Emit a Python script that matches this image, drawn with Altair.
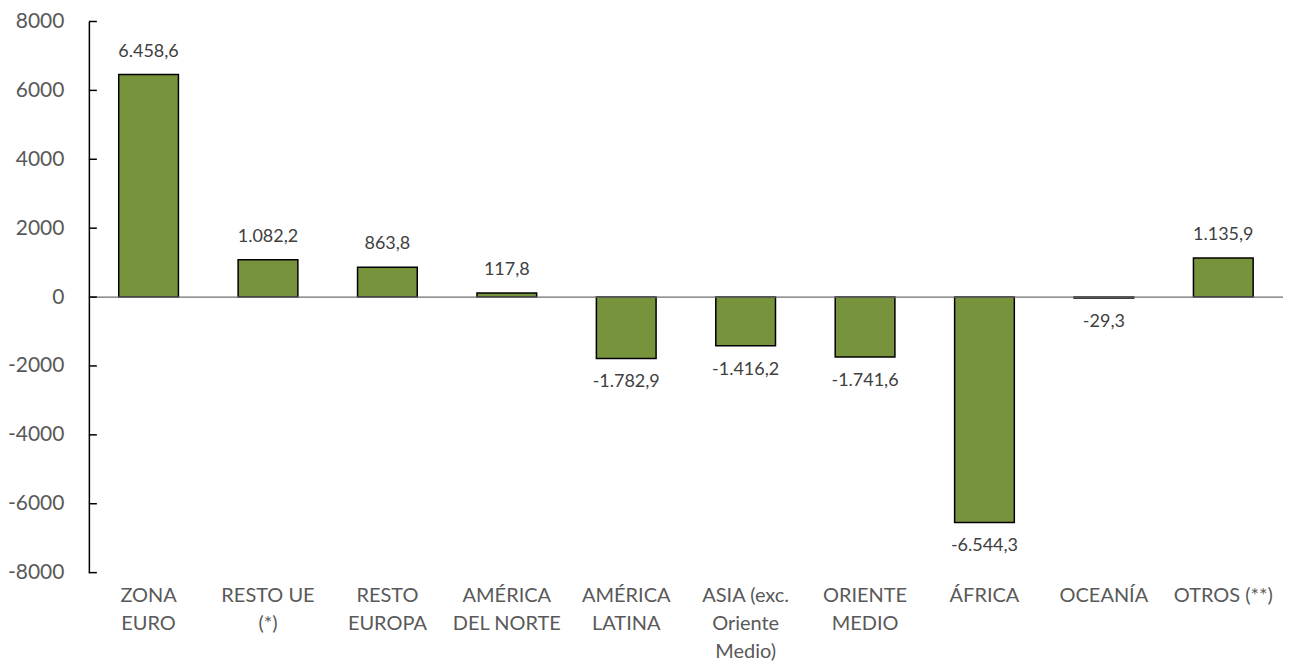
import altair as alt
import pandas as pd

categories = ["ZONA|EURO", "RESTO UE|(*)", "RESTO|EUROPA", "AMÉRICA|DEL NORTE",
              "AMÉRICA|LATINA", "ASIA (exc.|Oriente|Medio)", "ORIENTE|MEDIO",
              "ÁFRICA", "OCEANÍA", "OTROS (**)"]
values = [6458.6, 1082.2, 863.8, 117.8, -1782.9, -1416.2, -1741.6, -6544.3, -29.3, 1135.9]
y_ticks = [-8000, -6000, -4000, -2000, 0, 2000, 4000, 6000, 8000]


def fmt_es(v):
    s = f"{abs(v):,.1f}".replace(",", "X").replace(".", ",").replace("X", ".")
    return ("-" if v < 0 else "") + s


df = pd.DataFrame({"cat": categories, "val": values})
df["lbl"] = [fmt_es(v) for v in values]
df["pos"] = df["val"] >= 0
ticks_df = pd.DataFrame({"t": y_ticks})

FONT = "Lato"
GRAY = "#595959"

x_enc = alt.X("cat:N", sort=categories, title=None,
              scale=alt.Scale(paddingInner=0.5, paddingOuter=0.25),
              axis=alt.Axis(domain=False, ticks=False, labelAngle=0,
                            labelExpr="split(datum.label, '|')",
                            labelFont=FONT, labelFontSize=20, labelColor=GRAY,
                            labelPadding=13, labelLineHeight=28,
                            labelBaseline="top"))
y_scale = alt.Scale(domain=[-8000, 8000], nice=False)

bars = alt.Chart(df).mark_bar(color="#77933C", stroke="black", strokeWidth=1.5).encode(
    x=x_enc,
    y=alt.Y("val:Q", scale=y_scale, title=None,
            axis=alt.Axis(values=y_ticks, grid=False, ticks=False, domainColor="black",
                          domainWidth=1.5, labelFont=FONT, labelFontSize=21,
                          labelColor=GRAY, labelPadding=25,
                          labelExpr="'' + datum.value")),
)

zero = alt.Chart(pd.DataFrame({"z": [0]})).mark_rule(color="#6f6f6f", strokeWidth=1.2).encode(
    y=alt.Y("z:Q", scale=y_scale), x=alt.value(0), x2=alt.value(1196))

yticks = alt.Chart(ticks_df).mark_rule(color="black", strokeWidth=1.5).encode(
    y=alt.Y("t:Q", scale=y_scale), x=alt.value(0), x2=alt.value(8))

lab_pos = alt.Chart(df).transform_filter("datum.pos").mark_text(
    baseline="bottom", dy=-14, font=FONT, fontSize=18, color="#404040").encode(
    x=alt.X("cat:N", sort=categories), y=alt.Y("val:Q", scale=y_scale), text="lbl:N")

lab_neg = alt.Chart(df).transform_filter("!datum.pos").mark_text(
    baseline="top", dy=15, font=FONT, fontSize=18, color="#404040").encode(
    x=alt.X("cat:N", sort=categories), y=alt.Y("val:Q", scale=y_scale), text="lbl:N")

chart = alt.layer(bars, zero, yticks, lab_pos, lab_neg).properties(
    width=1196, height=552,
    autosize=alt.AutoSizeParams(type="none"),
    padding={"left": 81, "top": 13, "right": 0, "bottom": 90},
).configure_view(stroke=None)

chart.save("out.html", embed_options={"renderer": "svg", "actions": False})
